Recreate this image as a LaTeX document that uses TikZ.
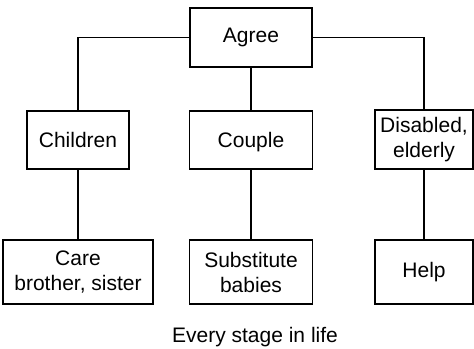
\documentclass[tikz,border=0pt]{standalone}
\usepackage{fontspec}
\setmainfont{Liberation Sans}
\begin{document}
\begin{tikzpicture}[
  x=0.5pt, y=-0.5pt,
  every node/.style={font=\fontsize{10.5}{12.5}\selectfont},
  box/.style={draw, line width=0.85pt, align=center, inner sep=0pt},
  link/.style={line width=0.85pt}
]
  \useasboundingbox (0,0) rectangle (474,348);
  \def\colL{78}
  \def\colM{251}
  \def\colR{424}
  % top
  \node[box, minimum width=61pt, minimum height=29.5pt] (agree) at (\colM,37.5) {Agree};
  % middle row
  \node[box, minimum width=51pt, minimum height=29pt] (children) at (\colL,140) {Children};
  \node[box, minimum width=61.5pt, minimum height=29pt, text depth=0pt] (couple) at (\colM,140) {Couple};
  \node[box, minimum width=49pt, minimum height=29.5pt] (disabled) at (\colR,139.5) {Disabled,\\elderly};
  % bottom row
  \node[box, minimum width=75pt, minimum height=32pt] (care) at (\colL,272) {Care\\brother, sister};
  \node[box, minimum width=61.5pt, minimum height=32pt] (subst) at (\colM,272) {Substitute\\babies};
  \node[box, minimum width=49pt, minimum height=32pt] (help) at (\colR,272) {Help};
  \node (stage) at (255,337) {Every stage in life};
  % connectors
  \draw[link] (agree.west) -| (children.north);
  \draw[link] (agree.east) -| (disabled.north);
  \draw[link] (agree.south) -- (couple.north);
  \draw[link] (children.south) -- (care.north);
  \draw[link] (couple.south) -- (subst.north);
  \draw[link] (disabled.south) -- (help.north);
\end{tikzpicture}
\end{document}
